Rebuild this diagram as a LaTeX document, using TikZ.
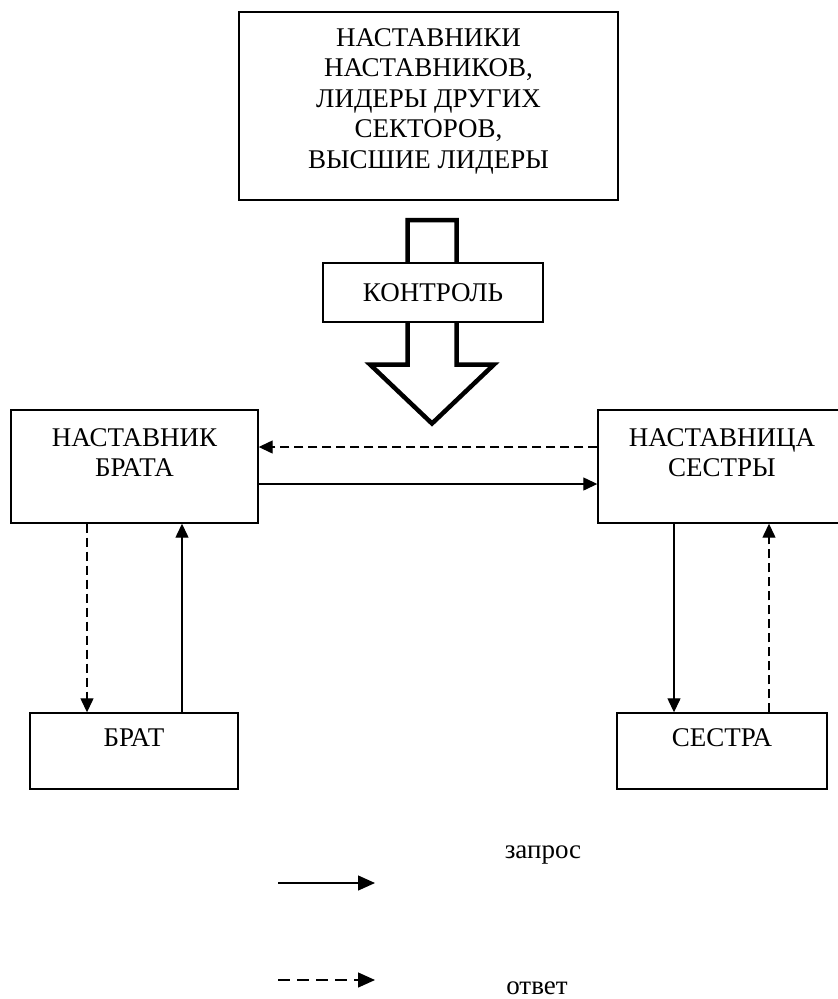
\documentclass[tikz,border=0pt]{standalone}
\usepackage{fontspec}
\setmainfont{Liberation Serif}
\usetikzlibrary{positioning}
\usetikzlibrary{arrows.meta}

\begin{document}
\begin{tikzpicture}[x=1pt, y=-1pt,
    box/.style={draw, black, line width=1.4pt, fill=white, inner sep=0pt},
    boxtext/.style={align=center, inner sep=0pt, font=\fontsize{27}{30.5}\selectfont},
    req/.style={black, line width=1.3pt, -{Triangle[length=14pt, width=13pt]}},
    ans/.style={req, dash pattern=on 9pt off 5pt}]
    \useasboundingbox (0,0) rectangle (838,999);
    % top block and control arrow
    \node[box, minimum width=379pt, minimum height=188pt,
          label={[boxtext, yshift=5pt]center:{НАСТАВНИКИ\\НАСТАВНИКОВ,\\ЛИДЕРЫ ДРУГИХ\\СЕКТОРОВ,\\ВЫСШИЕ ЛИДЕРЫ}}] (leaders) at (428.5,106) {};
    \draw[black, line width=4.5pt, miter limit=10] (407.5,220)--(456.5,220)--(456.5,364.5)--(494,364.5)--(432,423.5)--(370,364.5)--(407.5,364.5)--cycle;
    \node[box, minimum width=220pt, minimum height=59pt, boxtext] (control) at (433,292.5) {КОНТРОЛЬ};
    % mentors
    \node[box, minimum width=247pt, minimum height=113pt,
          label={[boxtext, yshift=14pt]center:{НАСТАВНИК\\БРАТА}}] (mentorB) at (134.5,466.5) {};
    \node[box, minimum width=248pt, minimum height=113pt,
          label={[boxtext, yshift=14pt]center:{НАСТАВНИЦА\\СЕСТРЫ}}] (mentorS) at (722,466.5) {};
    \node[box, minimum width=208pt, minimum height=76pt,
          label={[boxtext, yshift=13pt]center:БРАТ}] (brother) at (134,751) {};
    \node[box, minimum width=210pt, minimum height=76pt,
          label={[boxtext, yshift=13pt]center:СЕСТРА}] (sister) at (722,751) {};
    \draw[ans] ([yshift=19.5pt]mentorS.west) -- ([yshift=19.5pt]mentorB.east);
    \draw[req] ([yshift=-17.5pt]mentorB.east) -- ([yshift=-17.5pt]mentorS.west);
    \draw[ans] ([xshift=-47.5pt]mentorB.south) -- ([xshift=-47.5pt]mentorB.south |- brother.north);
    \draw[req] ([xshift=47.5pt]mentorB.south |- brother.north) -- ([xshift=47.5pt]mentorB.south);
    \draw[req] ([xshift=-48pt]mentorS.south) -- ([xshift=-48pt]mentorS.south |- sister.north);
    \draw[ans] ([xshift=47pt]mentorS.south |- sister.north) -- ([xshift=47pt]mentorS.south);
    % legend
    \coordinate (reqA) at (278,883);
    \coordinate (reqB) at (375,883);
    \coordinate (ansA) at (278,980);
    \coordinate (ansB) at (375,980);
    \draw[req, -{Triangle[length=17pt, width=15pt]}] (reqA) -- (reqB);
    \draw[ans, -{Triangle[length=17pt, width=15pt]}, dash pattern=on 12pt off 7pt] (ansA) -- (ansB);
    \node[boxtext] (reqtext) at (543,855) {запрос};
    \node[boxtext] (anstext) at (537,988) {ответ};
\end{tikzpicture}
\end{document}
